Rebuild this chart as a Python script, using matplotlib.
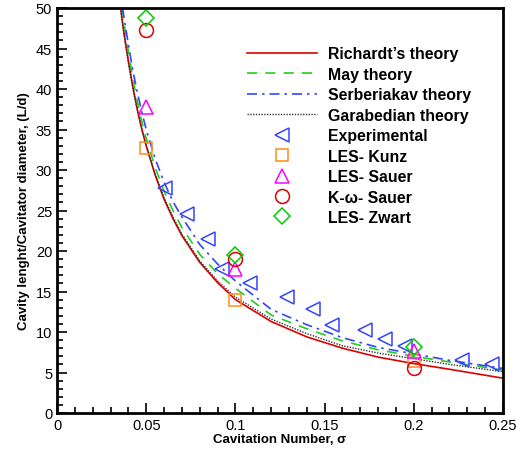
import numpy as np
import matplotlib
matplotlib.use('Agg')
import matplotlib.pyplot as plt
from matplotlib.ticker import MultipleLocator, FormatStrFormatter

plt.rcParams['font.family'] = ['Liberation Sans', 'DejaVu Sans']

# theory curves
sig_richardt = [0.0357, 0.0375, 0.04, 0.0425, 0.045, 0.0475, 0.05, 0.055, 0.06, 0.065, 0.07, 0.08, 0.09, 0.1,
                0.12, 0.14, 0.16, 0.18, 0.2, 0.22, 0.25]
richardt = [50.0, 47.0, 43.5, 40.3, 37.5, 35.1, 33.0, 29.4, 26.4, 24.0, 21.9, 18.6, 16.1, 14.0,
            11.3, 9.4, 8.0, 6.9, 6.1, 5.4, 4.3]

sig_may = [0.0365, 0.0375, 0.04, 0.0425, 0.045, 0.0475, 0.05, 0.055, 0.06, 0.065, 0.07, 0.08, 0.09, 0.1,
           0.12, 0.14, 0.16, 0.18, 0.2, 0.22, 0.25]
may = [50.0, 48.4, 44.6, 41.3, 38.5, 36.0, 33.9, 30.3, 27.4, 25.0, 22.9, 19.6, 17.2, 15.4,
       12.1, 10.4, 8.9, 7.8, 7.0, 6.3, 5.3]

sig_serb = [0.0368, 0.0375, 0.04, 0.0425, 0.045, 0.0475, 0.05, 0.055, 0.06, 0.065, 0.07, 0.08, 0.09, 0.1,
            0.12, 0.14, 0.16, 0.18, 0.2, 0.22, 0.25]
serb = [50.0, 48.9, 45.5, 42.3, 39.6, 37.2, 35.0, 31.4, 28.5, 26.1, 24.2, 20.8, 18.4, 16.3,
        12.8, 10.9, 9.3, 8.1, 7.3, 6.5, 5.5]

sig_garab = [0.0355, 0.0375, 0.04, 0.0425, 0.045, 0.0475, 0.05, 0.055, 0.06, 0.065, 0.07, 0.08, 0.09, 0.1,
             0.12, 0.14, 0.16, 0.18, 0.2, 0.22, 0.25]
garab = [50.0, 46.8, 43.2, 40.1, 37.4, 35.0, 33.0, 29.5, 26.6, 24.2, 22.1, 18.8, 16.3, 14.3,
         11.6, 9.8, 8.3, 7.4, 6.7, 6.0, 5.1]

# experimental points
sig_exp = [0.0605, 0.0729, 0.0846, 0.0925, 0.108, 0.129, 0.1435, 0.154, 0.1726, 0.184, 0.195, 0.227, 0.244]
exp_ld = [27.8, 24.6, 21.5, 17.8, 16.1, 14.3, 12.9, 10.9, 10.2, 9.1, 8.3, 6.6, 6.1]

# simulations
sig_sim = [0.05, 0.1, 0.2]
les_kunz = [32.7, 14.0, 6.4]
les_sauer = [37.8, 17.8, 7.6]
kw_sauer = [47.3, 19.0, 5.5]
les_zwart = [48.8, 19.5, 8.2]

fig = plt.figure(figsize=(5.19, 4.52), dpi=100)
ax = fig.add_axes([57/519, 38/452, 446/519, 405/452])

ax.plot(sig_richardt, richardt, color='#dd0000', lw=1.2, label='Richardt\u2019s theory')
ax.plot(sig_may, may, color='#22cc22', lw=1.2, ls=(0, (6, 5)), label='May theory')
ax.plot(sig_serb, serb, color='#3344ff', lw=1.2, ls=(0, (6, 3, 1.5, 3)), label='Serberiakav theory')
ax.plot(sig_garab, garab, color='#333333', lw=1.0, ls=(0, (1, 1)), label='Garabedian theory')

mk = dict(ls='none', ms=10, mfc='none', mew=1.1)
ax.plot(sig_exp, exp_ld, marker='<', mec='#3344ff', label='Experimental', **mk)
ax.plot(sig_sim, les_kunz, marker='s', mec='#ff8c1a', label='LES- Kunz', **dict(mk, ms=9))
ax.plot(sig_sim, les_sauer, marker='^', mec='#ff00ff', label='LES- Sauer', **mk)
ax.plot(sig_sim, kw_sauer, marker='o', mec='#dd0000', label='K-\u03c9- Sauer', **mk)
ax.plot(sig_sim, les_zwart, marker='D', mec='#00cc00', label='LES- Zwart', **dict(mk, ms=8))

ax.set_xlim(0, 0.25)
ax.set_ylim(0, 50)
ax.xaxis.set_major_locator(MultipleLocator(0.05))
ax.xaxis.set_minor_locator(MultipleLocator(0.01))
ax.yaxis.set_major_locator(MultipleLocator(5))
ax.yaxis.set_minor_locator(MultipleLocator(1))
ax.xaxis.set_major_formatter(FormatStrFormatter('%g'))
ax.yaxis.set_major_formatter(FormatStrFormatter('%g'))
ax.tick_params(which='both', direction='in', top=False, right=False, labelsize=10.5, width=1.2)
ax.tick_params(which='major', length=7)
ax.tick_params(which='minor', length=4)
for s in ax.spines.values():
    s.set_linewidth(2)

ax.set_xlabel('Cavitation Number, \u03c3', fontsize=9.5, fontweight='bold', labelpad=1)
ax.set_ylabel('Cavity lenght/Cavitator diameter, (L/d)', fontsize=9.5, fontweight='bold', labelpad=4)

ax.legend(loc='upper left', bbox_to_anchor=(0.408, 0.925), frameon=False, borderpad=0,
          handlelength=4.4, handletextpad=0.75, labelspacing=0.345,
          prop={'weight': 'bold', 'size': 11.4})

fig.savefig('out.png', dpi=100)
